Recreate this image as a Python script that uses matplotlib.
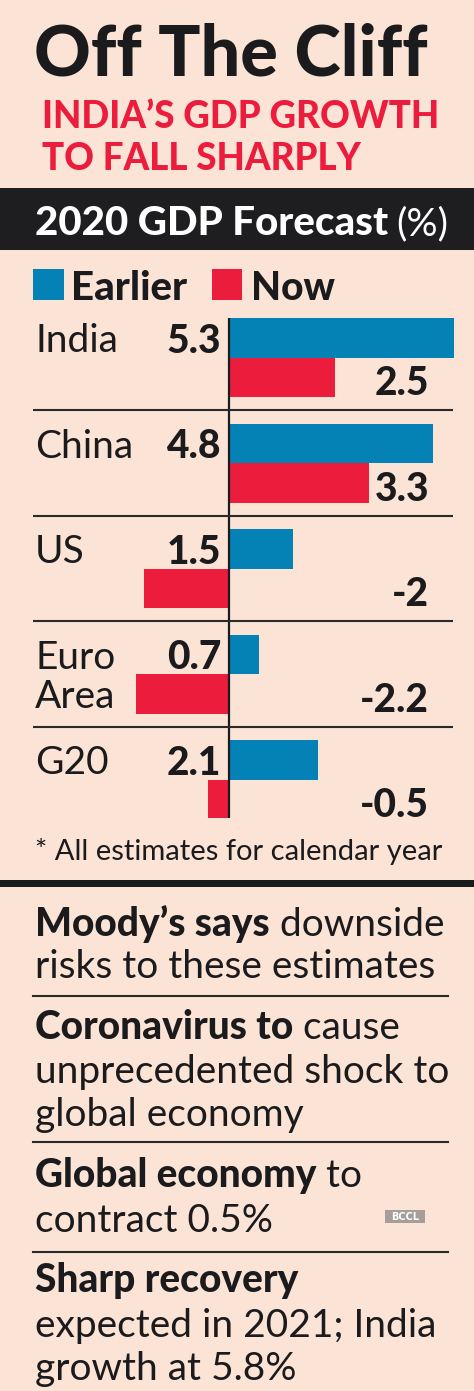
import matplotlib.pyplot as plt
from matplotlib.patches import Rectangle
from matplotlib.lines import Line2D

# data
countries = ['India', 'China', 'US', 'Euro\nArea', 'G20']
earlier = [5.3, 4.8, 1.5, 0.7, 2.1]
now = [2.5, 3.3, -2, -2.2, -0.5]
earlier_txt = ['5.3', '4.8', '1.5', '0.7', '2.1']
now_txt = ['2.5', '3.3', '-2', '-2.2', '-0.5']

notes = [
    [('Moody\u2019s says', ' downside'), ('', 'risks to these estimates')],
    [('Coronavirus to', ' cause'), ('', 'unprecedented shock to'), ('', 'global economy')],
    [('Global economy', ' to'), ('', 'contract 0.5%')],
    [('Sharp recovery', ''), ('', 'expected in 2021; India'), ('', 'growth at 5.8%')],
]
note_base = [[936, 978], [1039, 1083, 1126], [1187, 1232], [1292, 1337, 1380]]
note_lines = [996, 1142, 1252]

BG = '#FBE4D6'
BLUE = '#0481B5'
RED = '#EC1C3D'
INK = '#1B1B1D'
FONT = 'Lato'

W, H = 474, 1391
fig = plt.figure(figsize=(W / 100, H / 100), dpi=100)
fig.patch.set_facecolor(BG)


def fy(y):
    return 1 - y / H


def ftext(x, y, s, **kw):
    kw.setdefault('family', FONT)
    kw.setdefault('color', INK)
    return fig.text(x / W, fy(y), s, **kw)


def frect(x, y, w, h, c):
    fig.add_artist(Rectangle((x / W, fy(y + h)), w / W, h / H, transform=fig.transFigure,
                             facecolor=c, edgecolor='none'))


def fline(x0, x1, y, lw=1.5, c='#2a2a2a'):
    fig.add_artist(Line2D([x0 / W, x1 / W], [fy(y), fy(y)], transform=fig.transFigure,
                          color=c, lw=lw))


# header
ftext(34, 76, 'Off The Cliff', fontsize=50.5, weight='black')
ftext(42, 128, 'INDIA\u2019S GDP GROWTH', fontsize=26.5, weight='black', color=RED)
ftext(42, 170, 'TO FALL SHARPLY', fontsize=26.5, weight='black', color=RED)
frect(0, 188, W, 62, '#1E1E20')
t = ftext(35, 235, '2020 GDP Forecast', fontsize=29, weight='black', color='white')
fig.canvas.draw()
bb = t.get_window_extent()
ftext(bb.x1 + 8, 235, '(%)', fontsize=28, weight='normal', color='white')

# legend
frect(33, 269, 31, 31, BLUE)
ftext(71, 300, 'Earlier', fontsize=29, weight='black')
frect(212, 269, 30, 31, RED)
ftext(251, 300, 'Now', fontsize=28, weight='black')

# chart
px_unit = 42.5
zero = 229
top, bottom = 318, 818
pitch = 105.5
ax = fig.add_axes([0, fy(bottom), 1, (bottom - top) / H])
ax.set_xlim(-zero / px_unit, (W - zero) / px_unit)
ax.set_ylim((bottom - top) / pitch, 0)
ax.axis('off')

bh = 39.5 / pitch
pos = [i for i in range(len(countries))]
yb = [p + bh / 2 for p in pos]
yr = [p + bh * 1.5 for p in pos]
ax.barh(yb, earlier, height=bh, color=BLUE)
ax.barh(yr, now, height=bh, color=RED)
ax.axvline(0, color=INK, lw=1.6)
ax.hlines([p + 92 / pitch for p in pos[:-1]], (33 - zero) / px_unit, (453 - zero) / px_unit,
          color='#2a2a2a', lw=1.5)

for i, c in enumerate(countries):
    if '\n' in c:
        a, b = c.split('\n')
        ax.text((35 - zero) / px_unit, yb[i], a, fontsize=28, family=FONT, color=INK,
                va='center_baseline', ha='left')
        ax.text((35 - zero) / px_unit, yr[i], b, fontsize=28, family=FONT, color=INK,
                va='center_baseline', ha='left')
    else:
        ax.text((35 - zero) / px_unit, yb[i], c, fontsize=28, family=FONT, color=INK,
                va='center_baseline', ha='left')
    ax.text(-8 / px_unit, yb[i], earlier_txt[i], fontsize=28, family=FONT, weight='black',
            color=INK, va='center_baseline', ha='right')
    ax.text((429 - zero) / px_unit, yr[i] + 3 / pitch, now_txt[i], fontsize=28, family=FONT,
            weight='black', color=INK, va='center_baseline', ha='right')

ftext(35, 860, '* All estimates for calendar year', fontsize=21)
frect(0, 880, W, 7, INK)

# notes
for item, bases in zip(notes, note_base):
    for (bold, reg), yy in zip(item, bases):
        x = 35
        if bold:
            t = ftext(x, yy, bold, fontsize=28, weight='black', va='baseline')
            fig.canvas.draw()
            x = t.get_window_extent().x1
        if reg:
            ftext(x, yy, reg, fontsize=28, va='baseline')
for yy in note_lines:
    fline(33, 448, yy)

# watermark
frect(385, 1210, 40, 13, '#A59E9A')
ftext(405, 1217, 'BCCL', fontsize=7, weight='bold', color='white', ha='center', va='center',
      family='DejaVu Sans')

fig.savefig('out.png', dpi=100, facecolor=BG)
